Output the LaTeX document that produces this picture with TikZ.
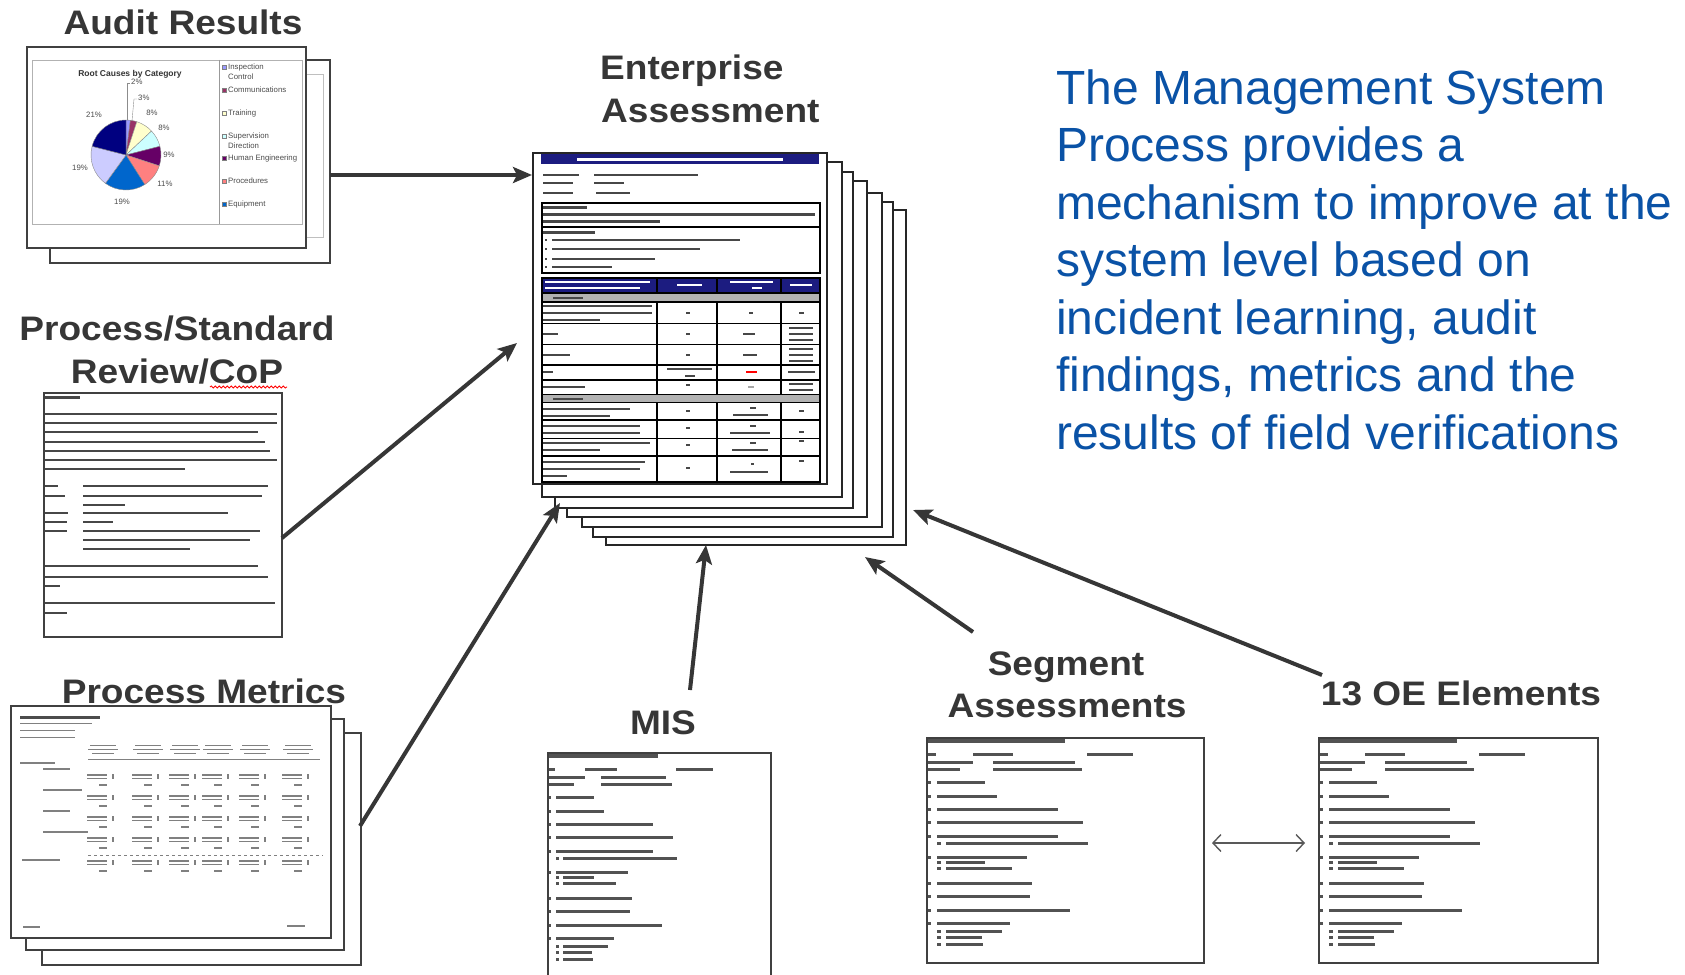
\documentclass[tikz,border=0pt]{standalone}
\usepackage{fontspec}
\setmainfont{Liberation Sans}
\newfontfamily\labelfont[FakeStretch=1.09]{Liberation Sans Bold}
\newfontfamily\bluefont{Liberation Sans}
\newfontfamily\tinyfont{Liberation Sans}
\usetikzlibrary{arrows.meta,decorations.pathmorphing}
\definecolor{lblgray}{HTML}{363636}
\definecolor{txtblue}{HTML}{0A52A6}
\definecolor{navyhd}{HTML}{1C1C80}
\definecolor{pA}{HTML}{9999FF}
\definecolor{pB}{HTML}{993366}
\definecolor{pC}{HTML}{FFFFCC}
\definecolor{pD}{HTML}{CCFFFF}
\definecolor{pE}{HTML}{660066}
\definecolor{pF}{HTML}{FF8080}
\definecolor{pG}{HTML}{0066CC}
\definecolor{pH}{HTML}{CCCCFF}
\definecolor{pI}{HTML}{000080}
\newcommand\agendabars{%
 \fill[abar] (1,1) rectangle (138,5);
 \fill[abar] (1,15) rectangle (9,17.5);
 \fill[abar] (46,15) rectangle (86,17.5);
 \fill[abar] (160,15) rectangle (206,17.5);
 \fill[abar] (1,23) rectangle (46,25.5);
 \fill[abar] (66,23) rectangle (148,25.5);
 \fill[abar] (1,30) rectangle (33,32.5);
 \fill[abar] (66,30) rectangle (155,32.5);
 \foreach \y/\e in {44/58,58/70,71/131,84/156,98/131,119/100,145/105,158/103,172/143,185/83} {
   \fill[abar] (1,\y-1) rectangle (4,\y+1.5);
   \fill[abar] (10,\y-1) rectangle (\e,\y+1.5);}
 \foreach \y/\e in {105/161,124/58,130/85,193/75,199/55,206/56} {
   \fill[abar] (10,\y-1) rectangle (14,\y+1.5);
   \fill[abar] (19,\y-1) rectangle (\e,\y+1.5);}
}
\begin{document}
\begin{tikzpicture}[x=1pt,y=-1pt,
  lbl/.style={font={\labelfont\fontsize{34}{40}\selectfont}, text=lblgray, anchor=base, inner sep=0pt},
  blu/.style={font={\bluefont\fontsize{48}{57}\selectfont}, text=txtblue, anchor=base west, inner sep=0pt},
  pg/.style={draw=black!75, fill=white, line width=2pt},
  epg/.style={draw=black!85, fill=white, line width=1.3pt},
  flow/.style={draw=lblgray, line width=4pt, -{Stealth[length=19pt,width=16pt,inset=4pt]}},
  both/.style={draw=black!65, line width=1.4pt, {Straight Barb[length=8pt,width=17pt]}-{Straight Barb[length=8pt,width=17pt]}},
  abar/.style={fill=black!68},
  tbar/.style={fill=black!72},
  wbar/.style={fill=white},
  mbar/.style={fill=black!50},
  tiny/.style={font={\tinyfont\fontsize{7.8}{8.5}\selectfont}, text=black!70, inner sep=0pt},
  tbl/.style={draw=black, line width=1.4pt}]
\useasboundingbox (0,0) rectangle (1685,974);
\fill[white] (0,0) rectangle (1685,974);

% ---------------- labels ----------------
\node[lbl] (lAudit) at (183,35) {Audit Results};
\node[lbl, anchor=base west] (lEnt1) at (600,79) {Enterprise};
\node[lbl, anchor=base west] (lEnt2) at (601,122) {Assessment};
\node[lbl] (lProc1) at (177,340) {Process/Standard};
\node[lbl] (lProc2) at (177,383) {Review/CoP};
\draw[red, line width=0.8pt, decorate, decoration={snake, amplitude=1.1pt, segment length=4pt}] (210,387) -- (287,387);
\node[lbl] (lMet) at (204,703) {Process Metrics};
\node[lbl] (lMis) at (663,734) {MIS};
\node[lbl] (lSeg1) at (1066,675) {Segment};
\node[lbl] (lSeg2) at (1067,717) {Assessments};
\node[lbl] (lOE) at (1461,705) {13 OE Elements};

\node[blu] (t1) at (1056,104) {The Management System};
\node[blu] (t2) at (1056,161) {Process provides a};
\node[blu] (t3) at (1056,219) {mechanism to improve at the};
\node[blu] (t4) at (1056,276) {system level based on};
\node[blu] (t5) at (1056,334) {incident learning, audit};
\node[blu] (t6) at (1056,391) {findings, metrics and the};
\node[blu] (t7) at (1056,449) {results of field verifications};

% ---------------- Audit results document ----------------
\draw[pg] (50,60) rectangle (330,263);
\draw[black!25, line width=0.8pt] (55,74) rectangle (323,237);
\draw[pg] (27,47) rectangle (306,248);
\draw[black!30, line width=0.8pt] (32,60) rectangle (302,224);
\draw[black!40, line width=0.8pt] (219,60) -- (219,224);
\node[tiny, font={\tinyfont\bfseries\fontsize{8.5}{9}\selectfont}, text=black!80] (rcTitle) at (130,74) {Root Causes by Category};
\begin{scope}[shift={(126,155)}, yscale=-1]
 \foreach \a/\b/\c in {90/82.8/pA, 82.8/72/pB, 72/43.2/pC, 43.2/14.4/pD, 14.4/-18/pE, -18/-57.6/pF, -57.6/-126/pG, -126/-194.4/pH, -194.4/-270/pI}
  \filldraw[fill=\c, draw=black!45, line width=0.4pt] (0,0) -- (\a:35) arc[start angle=\a, end angle=\b, radius=35] -- cycle;
\end{scope}
\draw[black!45, line width=0.4pt] (127,120) -- (127,83) -- (130,83);
\draw[black!45, line width=0.4pt] (132,121) -- (134,99) -- (137,99);
\node[tiny, anchor=west] (pc1) at (131,82) {2\%};
\node[tiny, anchor=west] (pc2) at (138,98) {3\%};
\node[tiny] (pc3) at (152,113) {8\%};
\node[tiny] (pc4) at (164,128) {8\%};
\node[tiny] (pc5) at (169,155) {9\%};
\node[tiny] (pc6) at (165,184) {11\%};
\node[tiny] (pc7) at (122,202) {19\%};
\node[tiny] (pc8) at (80,168) {19\%};
\node[tiny] (pc9) at (94,115) {21\%};
\foreach \y/\c/\t [count=\i] in {67/pA/Inspection/Quality, 90/pB/Communications, 113/pC/Training, 136/pD/Supervision/Work, 158/pE/Human Engineering, 181/pF/Procedures, 204/pG/Equipment}{
  \filldraw[fill=\c, draw=black!50, line width=0.3pt] (222,\y-2.2) rectangle (226.4,\y+2.2);
  \node[tiny, anchor=west] (lg\i) at (228,\y) {\t};}
\node[tiny, anchor=west] (lg1b) at (228,77) {Control};
\node[tiny, anchor=west] (lg4b) at (228,146) {Direction};

% ---------------- CoP document ----------------
\draw[pg] (44,393) rectangle (282,637);
\fill[tbar] (45,396) rectangle (80,398.5);
\foreach \y/\e in {414/277,423/277,432/258,442/265,451/270,460/277,469/185}
  \fill[tbar] (45,\y-1.2) rectangle (\e,\y+1.2);
\foreach \y/\l/\e in {486/58/268,496/65/262,513/68/228,522/67/113,531/67/260}{
  \fill[tbar] (45,\y-1.2) rectangle (\l,\y+1.2);
  \fill[tbar] (83,\y-1.2) rectangle (\e,\y+1.2);}
\foreach \y/\e in {505/125,540/250,549/190}
  \fill[tbar] (83,\y-1.2) rectangle (\e,\y+1.2);
\foreach \y/\e in {566/258,577/268,586/60,603/275,613/67}
  \fill[tbar] (45,\y-1.2) rectangle (\e,\y+1.2);

% ---------------- Metrics document ----------------
\draw[pg] (42,733) rectangle (361,965);
\draw[pg] (26,719) rectangle (344,950);
\draw[pg] (11,706) rectangle (331,938);
\fill[black!70] (20,716) rectangle (100,718.5);
\fill[mbar] (20,722.5) rectangle (92,724);
\fill[mbar] (20,729.5) rectangle (75,731);
\fill[mbar] (20,736.5) rectangle (75,738);
\foreach \c in {103,148,185,218,255,298}{
  \fill[mbar] (\c-13,744.5) rectangle (\c+13,745.7);
  \fill[mbar] (\c-15,748.5) rectangle (\c+15,749.7);
  \fill[mbar] (\c-11,752.5) rectangle (\c+11,753.7);}
\draw[black!50, line width=0.7pt] (88,759) -- (320,759);
\foreach \y/\a/\e in {763/20/55,769/43/70,790/43/82,811/43/70,832/43/88,860/22/60}
  \fill[mbar] (\a,\y-0.7) rectangle (\e,\y+0.7);
\foreach \y in {775,796,817,838,861}{
  \foreach \c in {103,148,185,218,255,298}{
    \fill[mbar] (\c-16,\y-0.6) rectangle (\c+4,\y+0.6);
    \fill[mbar] (\c-16,\y+2.6) rectangle (\c+4,\y+3.8);
    \fill[mbar] (\c+9,\y-0.6) rectangle (\c+11,\y+3.8);
    \fill[mbar] (\c-4,\y+9.4) rectangle (\c+4,\y+10.6);}}
\draw[black!50, line width=0.7pt, dashed] (88,855) -- (323,855);
\fill[mbar] (23,926.4) rectangle (40,927.6);
\fill[mbar] (287,925.4) rectangle (305,926.6);

% ---------------- Enterprise assessment stack ----------------
\draw[epg] (606,210) rectangle (906,545);
\draw[epg] (593,202) rectangle (893,537);
\draw[epg] (582,193) rectangle (882,527);
\draw[epg] (567,181) rectangle (867,517);
\draw[epg] (555,172) rectangle (853,508);
\draw[epg] (542,162) rectangle (842,497);
\draw[epg] (533,153) rectangle (827,484);
\fill[navyhd] (541,154) rectangle (819,164);
\fill[wbar] (577,158) rectangle (783,160.5);
\foreach \y/\l/\a/\e in {175/579/594/698,183/573/594/624,193/573/596/630}{
  \fill[tbar] (543,\y-1.2) rectangle (\l,\y+1.2);
  \fill[tbar] (\a,\y-1.2) rectangle (\e,\y+1.2);}
\draw[black, line width=1.4pt] (542,203) rectangle (820,227);
\draw[black, line width=1.4pt] (542,227) rectangle (820,273);
\fill[tbar] (543,206) rectangle (587,208.5);
\fill[tbar] (543,213) rectangle (815,215.5);
\fill[tbar] (543,220) rectangle (660,222.5);
\fill[tbar] (543,231) rectangle (595,233.5);
\foreach \y/\e in {240/740,249/700,259/655,267/612}{
  \fill[tbar] (545,\y-1) rectangle (547,\y+1);
  \fill[tbar] (552,\y-1.2) rectangle (\e,\y+1.2);}
% table
\fill[navyhd] (542,278) rectangle (820,293);
\fill[black!30] (542,293) rectangle (820,302);
\fill[black!30] (542,394.5) rectangle (820,402.5);
\draw[tbl] (542,278) rectangle (820,482);
\foreach \y in {293,302,323.5,344.5,365,380,394.5,402.5,420,438.5,456}
  \draw[tbl] (542,\y) -- (820,\y);
\foreach \x in {657,717,781}{
  \draw[tbl] (\x,278) -- (\x,293);
  \draw[tbl] (\x,302) -- (\x,394.5);
  \draw[tbl] (\x,402.5) -- (\x,482);}
\fill[wbar] (545,281) rectangle (650,283);
\fill[wbar] (545,287) rectangle (640,289);
\fill[wbar] (677,284) rectangle (702,286);
\fill[wbar] (730,281) rectangle (773,283);
\fill[wbar] (752,287) rectangle (762,289);
\fill[wbar] (790,284) rectangle (812,286);
\fill[tbar] (553,296.5) rectangle (583,298.5);
\fill[tbar] (553,397.5) rectangle (583,399.5);
\foreach \y/\e in {306/652,313/652,320/600,334/558,355/570,372/553,387/585,409/630,416/610,426/640,433/640,443/650,450/600,462/645,469/640,476/567}
  \fill[tbar] (543,\y-1.1) rectangle (\e,\y+1.1);
\foreach \y in {313,334,355,385,411,428,445,468}
  \fill[tbar] (686,\y-1) rectangle (690,\y+1);
\fill[tbar] (667,368) rectangle (712,370);
\fill[tbar] (685,375) rectangle (695,377);
\foreach \y/\a/\e in {313/749/753,334/743/755,355/743/757,408/750/756,415/733/768,426/750/756,433/730/770,443/750/756,450/732/768,464/751/754,472/730/768}
  \fill[tbar] (\a,\y-1.1) rectangle (\e,\y+1.1);
\fill[red] (746,371) rectangle (757,373);
\fill[black!35] (748,386) rectangle (754,388);
\foreach \y in {328,334,340,349,355,361,384,390}
  \fill[tbar] (789,\y-1.1) rectangle (813,\y+1.1);
\fill[tbar] (788,371) rectangle (815,373);
\foreach \y in {313,411,432,441,461}
  \fill[tbar] (799,\y-1.1) rectangle (804,\y+1.1);

% ---------------- MIS / Segment / OE documents ----------------
\draw[pg, fill=none] (548,980) -- (548,753) -- (771,753) -- (771,980);
\begin{scope}[shift={(548,753)}, xscale=0.8]
  \agendabars
\end{scope}
\draw[pg] (927,738) rectangle (1204,963);
\begin{scope}[shift={(927,738)}]
  \agendabars
\end{scope}
\draw[pg] (1319,738) rectangle (1598,963);
\begin{scope}[shift={(1319,738)}]
  \agendabars
\end{scope}

% ---------------- connectors ----------------
\coordinate (auditR) at (330,175);
\coordinate (entIn1) at (532,175);
\coordinate (copR) at (282,538);
\coordinate (entIn2) at (517,343);
\coordinate (metR) at (360,826);
\coordinate (entIn3) at (560,503);
\coordinate (misT) at (690,690);
\coordinate (entIn4) at (706,545);
\coordinate (segT) at (973,632);
\coordinate (entIn5) at (865,557);
\coordinate (oeT) at (1322,675);
\coordinate (entIn6) at (913,510);
\coordinate (segR) at (1212,843);
\coordinate (oeL) at (1305,843);
\draw[flow] (auditR) -- (entIn1);
\draw[flow] (copR) -- (entIn2);
\draw[flow] (metR) -- (entIn3);
\draw[flow] (misT) -- (entIn4);
\draw[flow] (segT) -- (entIn5);
\draw[flow] (oeT) -- (entIn6);
\draw[both] (segR) -- (oeL);
\end{tikzpicture}
\end{document}
